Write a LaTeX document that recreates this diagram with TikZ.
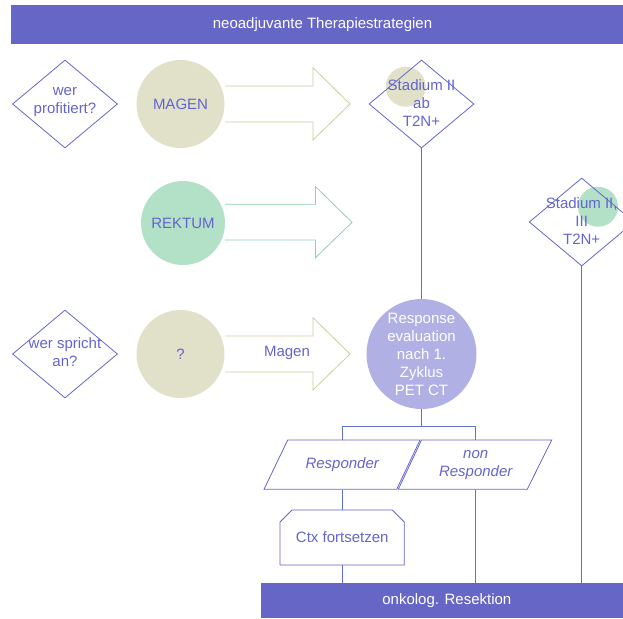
\documentclass[tikz,border=0pt]{standalone}
\usepackage{fontspec}
\setmainfont{Liberation Sans}
\usetikzlibrary{shapes.geometric}

\definecolor{barblue}{RGB}{102,102,198}
\definecolor{inkblue}{RGB}{100,100,205}
\definecolor{lineblue}{RGB}{95,115,205}
\definecolor{olivefill}{RGB}{225,225,202}
\definecolor{mintfill}{RGB}{178,225,200}
\definecolor{lavfill}{RGB}{176,176,228}
\definecolor{oliveline}{RGB}{205,205,160}
\definecolor{mintline}{RGB}{140,210,175}

\begin{document}
\begin{tikzpicture}[x=1pt,y=-1pt,
  every node/.style={font=\fontsize{15}{18}\selectfont, text=inkblue, align=center, inner sep=0pt},
  bar/.style={fill=barblue, draw=none, rectangle},
  bartext/.style={text=white},
  dia/.style={diamond, draw=inkblue, line width=0.8pt, minimum width=105pt, minimum height=88pt},
  disc/.style={circle, minimum size=88pt},
  spot/.style={circle, minimum size=40pt},
  blockarrow/.style={line width=0.8pt},
  link/.style={draw=lineblue, line width=0.8pt},
  outline/.style={draw=inkblue, line width=0.8pt},
  answer/.style={font=\fontsize{15}{18}\selectfont\itshape, minimum height=49.3pt}
]
\useasboundingbox (0,0) rectangle (623,618);
\clip (0,0) rectangle (623,618);

% title bar
\node[bar, minimum width=623pt, minimum height=38.5pt] (head) at (322.5,24.35) {};
\node[bartext] (headtxt) at (head) {neoadjuvante Therapiestrategien};

% row 1: stomach
\node[dia] (q1) at (65,104) {};
\node (q1t) at (65,102.5) {wer\\profitiert?};
\node[disc, fill=olivefill] (magen) at (180.5,104) {MAGEN};
\draw[blockarrow, draw=oliveline] (225,86) -- (313,86) -- (313,67.7) -- (350,104)
  -- (313,140) -- (313,122) -- (225,122);
\node[spot, fill=olivefill] (s2spot) at (405.7,86.7) {};
\node[dia] (d2) at (421.5,104) {};
\node (d2t) at (421.5,103) {Stadium II\\ab\\T2N+};

% row 2: rectum
\node[disc, fill=mintfill, minimum size=84pt] (rektum) at (183,223) {REKTUM};
\draw[blockarrow, draw=mintline] (225,204.3) -- (315.5,204.3) -- (315.5,186.7) -- (352,222.3)
  -- (315.5,257.7) -- (315.5,240) -- (225,240);
\node[spot, fill=mintfill] (s3spot) at (598,206.7) {};
\node[dia] (d3) at (581.7,222) {};
\node (d3t) at (581.7,221.5) {Stadium II,\\III\\T2N+};

% row 3: response
\node[dia] (q2) at (65,354) {};
\node (q2t) at (65,352.5) {wer spricht\\an?};
\node[disc, fill=olivefill] (unknown) at (180.5,354) {?};
\draw[blockarrow, draw=oliveline] (225,336) -- (313,336) -- (313,317.7) -- (350,354)
  -- (313,390) -- (313,372) -- (225,372);
\node (magentxt) at (287,353) {Magen};
\node[circle, fill=lavfill, minimum size=110pt, text=white] (ev) at (421.5,354)
  {Response\\evaluation\\nach 1.\\Zyklus\\PET CT};

% responder branches
\draw[outline] (287.7,440) -- (420,440) -- (396.7,489.3) -- (264,489.3) -- cycle;
\draw[outline] (421.5,440) -- (551.7,440) -- (527.2,489.3) -- (398.3,489.3) -- cycle;
\node[answer, minimum width=100pt] (resp) at (342.2,464.65) {Responder};
\node[answer, minimum width=100pt] (nresp) at (475.7,464.65) {non\\Responder};

\draw[outline] (280,522) -- (292,510) -- (392.3,510) -- (404.3,522) -- (404.3,565)
  -- (280,565) -- cycle;
\node[minimum width=124.3pt, minimum height=55pt] (ctx) at (342.2,537.5) {Ctx fortsetzen};

% resection bar
\node[bar, minimum width=372.3pt, minimum height=34.7pt] (resek) at (446.85,600.65) {};
\node[bartext] (resektxt) at (resek) {onkolog. Resektion};

% connectors
\coordinate (split) at (421.5,426.7);
\draw[link] (d2.south) -- (ev.north);
\draw[link] (ev.south) -- (split);
\draw[link] (split) -| (resp.north);
\draw[link] (split) -| (nresp.north);
\draw[link] (resp.south) -- (ctx.north);
\draw[link] (ctx.south) -- (ctx.south |- resek.north);
\draw[link] (nresp.south) -- (nresp.south |- resek.north);
\draw[link] (d3.south) -- (d3.south |- resek.north);
\end{tikzpicture}
\end{document}
